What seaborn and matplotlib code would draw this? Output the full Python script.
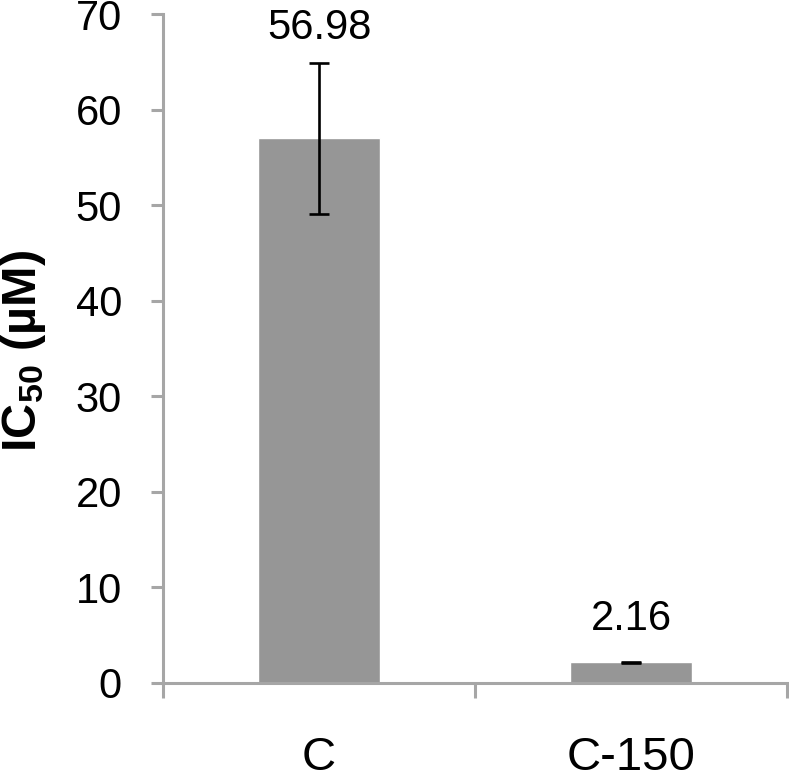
import matplotlib
matplotlib.use("Agg")
import matplotlib.pyplot as plt
import seaborn as sns
import pandas as pd

categories = ["C", "C-150"]
ic50 = [56.98, 2.16]
errors = [7.9, 0.08]
value_labels = ["56.98", "2.16"]
label_offsets_pt = [17, 23]
yticks = [0, 10, 20, 30, 40, 50, 60, 70]

sns.set_theme(style="white")
plt.rcParams["font.family"] = ["Liberation Sans", "DejaVu Sans"]
plt.rcParams["mathtext.fontset"] = "custom"
plt.rcParams["mathtext.rm"] = "Liberation Sans:bold"
plt.rcParams["mathtext.bf"] = "Liberation Sans:bold"
plt.rcParams["mathtext.it"] = "Liberation Sans:bold"

df = pd.DataFrame({"group": categories, "ic50": ic50})

fig = plt.figure(figsize=(7.89, 7.82), dpi=100)
ax = fig.add_axes([163 / 789, 1 - 683 / 782, 624 / 789, 669 / 782])

sns.barplot(data=df, x="group", y="ic50", color="#969696", saturation=1,
            width=0.39, errorbar=None, ax=ax, zorder=2)

xs = list(range(len(categories)))
ax.errorbar(xs, ic50, yerr=errors, fmt="none", ecolor="black",
            elinewidth=1.9, capsize=7.5, capthick=1.9, zorder=3)

for x, v, e, lab, off in zip(xs, ic50, errors, value_labels, label_offsets_pt):
    ax.annotate(lab, xy=(x, v + e), xytext=(0, off), textcoords="offset points",
                ha="center", va="baseline", fontsize=30, color="black")

ax.set_xlim(-0.5, len(categories) - 0.5)
ax.set_ylim(0, 70)
ax.set_yticks(yticks)
ax.set_yticklabels([str(t) for t in yticks])

ax.set_xticks(xs)
ax.set_xticklabels(categories)
ax.set_xticks([i - 0.5 for i in range(len(categories) + 1)], minor=True)
ax.tick_params(axis="x", which="major", length=0, pad=38, labelsize=34,
               labelcolor="black")
ax.tick_params(axis="x", which="minor", length=11, width=2.2,
               color="#a6a6a6", direction="out", bottom=True)
ax.tick_params(axis="y", which="major", length=8.6, width=2.2,
               color="#a6a6a6", direction="out", pad=21, labelsize=30,
               labelcolor="black", left=True)

for side in ["top", "right"]:
    ax.spines[side].set_visible(False)
for side in ["left", "bottom"]:
    ax.spines[side].set_color("#a6a6a6")
    ax.spines[side].set_linewidth(2.2)

ax.set_xlabel("")
ax.set_ylabel("")
fig.text(24 / 789, 1 - 351 / 782, r"IC$_{50}$ (µM)", rotation=90,
         ha="center", va="center", fontsize=35, fontweight="bold",
         color="black")

fig.savefig("out.png", dpi=100)
